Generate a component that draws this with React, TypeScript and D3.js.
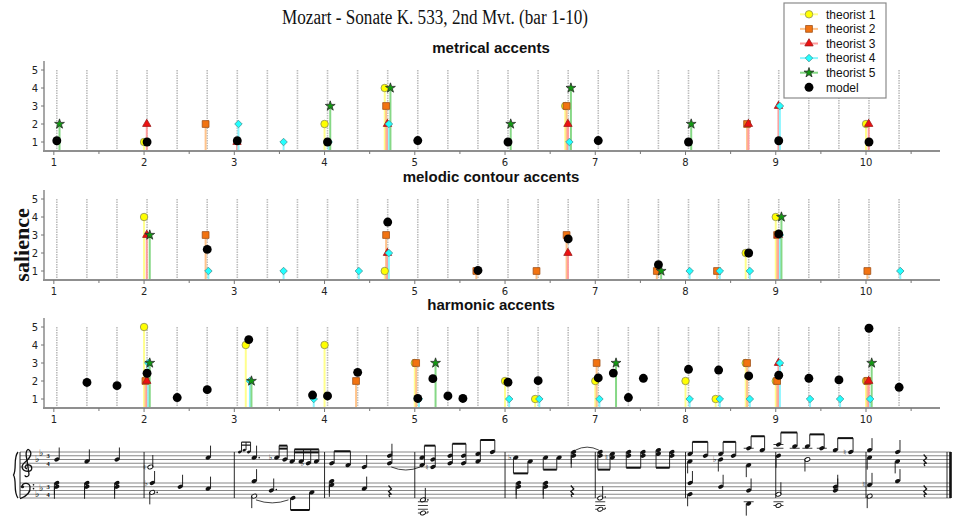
import React from 'react';
import * as d3 from 'd3';

type Pt = [number, number];
// [onset, staff, step, kind, stem dir, accidental]
type Note = [number, 'T' | 'B', number, string, string?, string?];

const chartTitle = 'Mozart - Sonate K. 533, 2nd Mvt. (bar 1-10)';
const panelTitles = ['metrical accents', 'melodic contour accents', 'harmonic accents'];
const seriesNames = ['theorist 1', 'theorist 2', 'theorist 3', 'theorist 4', 'theorist 5', 'model'];
const barNumbers = [1, 2, 3, 4, 5, 6, 7, 8, 9, 10];
const salienceTicks = [1, 2, 3, 4, 5];

// metrical accents
const metT1: Pt[] = [[2.033, 1], [4.033, 2], [4.7, 4], [6.7, 3], [10.033, 2]];
const metT2: Pt[] = [[2.7, 2], [4.7, 3], [6.7, 3], [8.7, 2]];
const metT3: Pt[] = [[2.033, 2], [3.033, 1], [4.7, 2], [6.7, 2], [8.7, 2], [9.033, 3], [10.033, 2]];
const metT4: Pt[] = [[3.033, 2], [3.533, 1], [4.033, 1], [4.7, 2], [6.7, 1], [9.033, 3]];
const metT5: Pt[] = [[1.033, 2], [4.033, 3], [4.7, 4], [6.033, 2], [6.7, 4], [8.033, 2]];
const metModel: Pt[] = [[1.033, 1.07], [2.033, 1], [3.033, 1.07], [4.033, 1], [5.033, 1.08],
  [6.033, 1], [7.033, 1.08], [8.033, 1], [9.033, 1.07], [10.033, 1]];

// melodic contour accents
const melT1: Pt[] = [[2.033, 4], [4.7, 1], [8.7, 2], [9.033, 4]];
const melT2: Pt[] = [[2.7, 3], [4.7, 3], [5.7, 1], [6.367, 1], [6.7, 3], [7.7, 1], [8.367, 1], [9.033, 3], [10.033, 1]];
const melT3: Pt[] = [[2.033, 3], [4.7, 2], [6.7, 2], [9.033, 3]];
const melT4: Pt[] = [[2.7, 1], [3.533, 1], [4.367, 1], [4.7, 2], [8.033, 1], [8.367, 1], [8.7, 1], [9.033, 3], [10.367, 1]];
const melT5: Pt[] = [[2.033, 3], [7.7, 1], [9.033, 4]];
const melModel: Pt[] = [[2.7, 2.2], [4.7, 3.72], [5.7, 1.03], [6.7, 2.78], [7.7, 1.35], [8.7, 2], [9.033, 3.06]];

// harmonic accents
const harT1: Pt[] = [[2.033, 5], [3.16, 4], [4.033, 4], [5.033, 3], [6.033, 2], [6.367, 1], [7.033, 2],
  [8.033, 2], [8.367, 1], [8.7, 3], [9.033, 2], [10.033, 2]];
const harT2: Pt[] = [[2.033, 2], [4.367, 2], [5.033, 3], [7.033, 3], [8.7, 3], [9.033, 2], [10.033, 2]];
const harT3: Pt[] = [[2.033, 2], [9.033, 3], [10.033, 2]];
const harT4: Pt[] = [[2.033, 3], [3.16, 2], [3.867, 1], [5.033, 1], [6.033, 1], [6.367, 1], [7.033, 1],
  [8.033, 1], [8.367, 1], [8.7, 1], [9.033, 3], [9.367, 1], [9.7, 1], [10.033, 1]];
const harT5: Pt[] = [[2.033, 3], [3.16, 2], [5.2, 3], [7.2, 3], [10.033, 3]];
const harModel: Pt[] = [[1.367, 1.92], [1.7, 1.74], [2.033, 2.43], [2.367, 1.08], [2.7, 1.52], [3.16, 4.3],
  [3.867, 1.22], [4.033, 1.17], [4.367, 2.48], [5.033, 1.03], [5.2, 2.13], [5.367, 1.17], [5.533, 1.03],
  [6.033, 1.93], [6.367, 2.02], [7.033, 2.17], [7.2, 2.44], [7.367, 1.08], [7.533, 2.15], [8.033, 2.65],
  [8.367, 2.61], [8.7, 2.28], [9.033, 2.32], [9.367, 2.15], [9.7, 2.06], [10.033, 4.93], [10.367, 1.65]];

const panels: Pt[][][] = [
  [metT1, metT2, metT3, metT4, metT5, metModel],
  [melT1, melT2, melT3, melT4, melT5, melModel],
  [harT1, harT2, harT3, harT4, harT5, harModel],
];

// score (bar 1-10), positions in bar units
const scoreNotes: Note[] = [
  [1.033, 'T', 4, 'q', 'u'], [1.367, 'T', 3, 'q', 'u'], [1.7, 'T', 4, 'q', 'u'],
  [1.033, 'B', 6, 'q', 'd'], [1.033, 'B', 8, 'q', 'd'], [1.367, 'B', 6, 'q', 'd'], [1.367, 'B', 8, 'q', 'd'],
  [1.7, 'B', 6, 'q', 'd'], [1.7, 'B', 8, 'q', 'd'],
  [2.07, 'T', 0, 'h', 'u', 'n'], [2.71, 'T', 5, 'q', 'u'],
  [2.09, 'B', 8, 'q', 'u', 'b'], [2.09, 'B', 3, 'd', 'd'], [2.4, 'B', 6, 'q', 'u'], [2.71, 'B', 5, 'q', 'u'],
  [3.06, 'T', 8, 's'], [3.11, 'T', 9, 's'], [3.16, 'T', 8, 's'],
  [3.22, 'T', 5, 'qd', 'u'],
  [3.47, 'T', 5, 'e', 'u', 'b'], [3.56, 'T', 4, 'e'], [3.64, 'T', 3, 'e'], [3.74, 'T', 3, 'e'],
  [3.82, 'T', 2, 'e', 'u', 'b'], [3.91, 'T', 3, 'e'],
  [3.22, 'B', 9, 'q', 'u'], [3.22, 'B', 1, 'h', 'd'], [3.41, 'B', 4, 'qd', 'u'],
  [3.65, 'B', 0, 'e'], [3.86, 'B', 3, 'e'],
  [4.08, 'T', 2, 'e'], [4.26, 'T', 1, 'e'], [4.44, 'T', 0, 'q', 'u'], [4.72, 'T', 2, 'q', 'u'], [4.72, 'T', 6, 'q', 'u'],
  [4.08, 'B', 7, 'q', 'd'], [4.08, 'B', 9, 'q', 'd'], [4.44, 'B', 5, 'q', 'u'],
  [5.08, 'T', 1, 'e'], [5.08, 'T', 5, 'e'], [5.2, 'T', 0, 'e', 'u', 'n'], [5.2, 'T', 4, 'e'],
  [5.39, 'T', 2, 'e'], [5.39, 'T', 6, 'e'], [5.54, 'T', 2, 'e'], [5.54, 'T', 6, 'e'],
  [5.7, 'T', 3, 'e'], [5.7, 'T', 7, 'e'], [5.86, 'T', 8, 'e'],
  [5.09, 'B', -1, 'd', 'u'], [5.09, 'B', -8, 'dn'],
  [6.12, 'T', 5, 'e', 'd', 'b'], [6.28, 'T', 3, 'e'], [6.45, 'T', 5, 'e'], [6.6, 'T', 5, 'e'],
  [6.76, 'T', 6, 'q', 'd'], [6.76, 'T', 8, 'q', 'd'],
  [6.15, 'B', 6, 'q', 'd'], [6.15, 'B', 8, 'q', 'd'], [6.45, 'B', 6, 'q', 'd'], [6.45, 'B', 8, 'q', 'd'],
  [7.055, 'T', 6, 'e'], [7.055, 'T', 8, 'e'], [7.19, 'T', 5, 'e', 'd', 'n'], [7.19, 'T', 7, 'e'],
  [7.37, 'T', 6, 'e'], [7.37, 'T', 8, 'e'], [7.53, 'T', 6, 'e'], [7.53, 'T', 8, 'e'],
  [7.7, 'T', 7, 'e'], [7.7, 'T', 9, 'e'], [7.85, 'T', 6, 'e'], [7.85, 'T', 8, 'e'],
  [7.055, 'B', 0, 'd', 'u'], [7.055, 'B', -6, 'dn'],
  [8.05, 'T', 7, 'e'], [8.22, 'T', 6, 'e'], [8.39, 'T', 7, 'e'], [8.53, 'T', 6, 'e'], [8.7, 'T', 10, 'e'], [8.85, 'T', 9, 'e'],
  [8.05, 'T', 3, 'q', 'd'], [8.39, 'T', 4, 'q', 'd', 'b'], [8.7, 'T', 1, 'q', 'd'],
  [8.05, 'B', 8, 'q', 'u'], [8.05, 'B', 2, 'q', 'd'], [8.39, 'B', 6, 'q', 'u'], [8.7, 'B', 4, 'q', 'u'], [8.7, 'B', -3, 'q', 'd'],
  [9.03, 'T', 12, 'e'], [9.21, 'T', 11, 'e'], [9.35, 'T', 11, 'e'], [9.51, 'T', 10, 'e'], [9.66, 'T', 9, 'e'], [9.83, 'T', 8, 'e', 'u', 'n'],
  [9.03, 'T', 6, 'q', 'd'], [9.35, 'T', 4, 'h', 'd'],
  [9.03, 'B', 2, 'h', 'u'], [9.03, 'B', -4, 'hn'], [9.66, 'B', 4, 'q', 'u'], [9.66, 'B', 6, 'q', 'u'],
  [10.04, 'T', 9, 'q', 'u'], [10.04, 'T', 5, 'q', 'd'], [10.35, 'T', 8, 'q', 'u'], [10.35, 'T', 3, 'q', 'd'],
  [10.04, 'B', 7, 'q', 'u', 'n'], [10.04, 'B', 1, 'h', 'd'], [10.35, 'B', 9, 'q', 'u'],
];
// [staff, stem dir, beam count, onsets]
const scoreBeams: ['T' | 'B', string, number, number[]][] = [
  ['T', 'u', 2, [3.06, 3.11, 3.16]],
  ['T', 'u', 2, [3.47, 3.56]], ['T', 'u', 2, [3.64, 3.74, 3.82, 3.91]],
  ['B', 'd', 1, [3.65, 3.86]],
  ['T', 'u', 1, [4.08, 4.26]],
  ['T', 'u', 1, [5.08, 5.2]], ['T', 'u', 1, [5.39, 5.54]], ['T', 'u', 1, [5.7, 5.86]],
  ['T', 'd', 1, [6.12, 6.28]], ['T', 'd', 1, [6.45, 6.6]],
  ['T', 'd', 1, [7.055, 7.19]], ['T', 'd', 1, [7.37, 7.53]], ['T', 'd', 1, [7.7, 7.85]],
  ['T', 'u', 1, [8.05, 8.22]], ['T', 'u', 1, [8.39, 8.53]], ['T', 'u', 1, [8.7, 8.85]],
  ['T', 'u', 1, [9.03, 9.21]], ['T', 'u', 1, [9.35, 9.51]], ['T', 'u', 1, [9.66, 9.83]],
];
// [from, to, staff, step, up?]
const scoreTies: [number, number, 'T' | 'B', number, number][] = [
  [4.74, 5.06, 'T', 0, 0], [3.24, 3.6, 'B', -1, 0], [6.78, 7.04, 'T', 9, 1],
];
const scoreRests: [number, 'T' | 'B'][] = [[4.72, 'B'], [6.74, 'B'], [10.65, 'T'], [10.65, 'B']];

const W = 957;
const H = 521;
const x = d3.scaleLinear().domain([0.88, 10.82]).range([43, 940]);
const baselines = [151, 280, 408];
const panelH = 90;
const beatGrid = d3.range(1, 11).flatMap((n) => [0, 1, 2].map((k) => n + 0.033 + k / 3)).filter((v) => v < 10.5);

const styles = [
  { shape: d3.symbolCircle, size: 44, rot: 0, fill: '#ffff00', stroke: '#8c8c5a', stem: '#ffff8c', dx: -0.033 },
  { shape: d3.symbolSquare, size: 46, rot: 0, fill: '#f27311', stroke: '#a0521a', stem: '#ffc48c', dx: -0.018 },
  { shape: d3.symbolTriangle, size: 30, rot: 0, fill: '#ee1111', stroke: '#9a1a1a', stem: '#ff9c9c', dx: -0.003 },
  { shape: d3.symbolSquare, size: 28, rot: 45, fill: '#22ffff', stroke: '#4a9a9a', stem: '#8cf6ff', dx: 0.013 },
  { shape: d3.symbolStar, size: 30, rot: 0, fill: '#129a12', stroke: '#2a2a2a', stem: '#86d886', dx: 0.03 },
  { shape: d3.symbolCircle, size: 62, rot: 0, fill: '#000000', stroke: '#000000', stem: '', dx: 0 },
];
const sym = (i: number) => d3.symbol(styles[i].shape, styles[i].size)() || '';

const sans = 'Liberation Sans, Arial, sans-serif';

function Panel({ idx }: { idx: number }) {
  const base = baselines[idx];
  const y = d3.scaleLinear().domain([0.5, 5.5]).range([base, base - panelH]);
  const data = panels[idx];
  return (
    <g>
      <text x={491} y={base - 98} textAnchor="middle" fontFamily={sans} fontWeight="bold" fontSize={15} fill="#111">
        {panelTitles[idx]}
      </text>
      {beatGrid.map((v, i) => (
        <line key={i} x1={x(v)} x2={x(v)} y1={y(5)} y2={base} stroke="#bdbdbd" strokeWidth={1.6} strokeDasharray="1.5,1" />
      ))}
      {/* y axis */}
      <line x1={44} x2={44} y1={y(5.5)} y2={base} stroke="#8a8a8a" strokeWidth={1.5} />
      {salienceTicks.map((t) => (
        <g key={t}>
          <line x1={41} x2={44} y1={y(t)} y2={y(t)} stroke="#777" />
          <text x={38} y={y(t) + 3.5} textAnchor="end" fontFamily="DejaVu Sans, sans-serif" fontSize={10} fill="#222">{t}</text>
        </g>
      ))}
      {/* stems */}
      {data.slice(0, 5).map((s, si) =>
        s.map(([o, v], j) => (
          <line key={`${si}-${j}`} x1={x(o + styles[si].dx)} x2={x(o + styles[si].dx)} y1={base} y2={y(v)}
            stroke={styles[si].stem} strokeWidth={2} />
        )))}
      {/* markers */}
      {data.map((s, si) =>
        s.map(([o, v], j) => (
          <path key={`m${si}-${j}`} d={sym(si)}
            transform={`translate(${x(o + styles[si].dx)},${y(v)}) rotate(${styles[si].rot})`}
            fill={styles[si].fill} stroke={styles[si].stroke} strokeWidth={si === 5 ? 0 : 0.8} />
        )))}
      {/* x axis */}
      <line x1={43} x2={940} y1={base} y2={base} stroke="#8f8f8f" strokeWidth={2} />
      {barNumbers.map((b) => (
        <g key={b}>
          <line x1={x(b)} x2={x(b)} y1={base} y2={base + 4} stroke="#777" />
          <line x1={x(b + 0.5)} x2={x(b + 0.5)} y1={base} y2={base + 3} stroke="#777" />
          <text x={x(b)} y={base + 15} textAnchor="middle" fontFamily="DejaVu Sans, sans-serif" fontSize={10} fill="#222">{b}</text>
        </g>
      ))}
    </g>
  );
}

const staffBottom = { T: 467, B: 498 } as const;
const half = 1.875;
const sy = (st: 'T' | 'B', step: number) => staffBottom[st] - step * half;

function Score() {
  const heads = scoreNotes.map((n) => {
    const [o, st, step, kind, dir, acc] = n;
    const cx = x(o);
    const cy = sy(st, step);
    const small = kind === 's';
    const hollow = kind === 'h' || kind === 'd' || kind === 'dn' || kind === 'hn';
    const ledgers: number[] = [];
    for (let s = -2; s >= step; s -= 2) ledgers.push(s);
    for (let s = 10; s <= step; s += 2) ledgers.push(s);
    const hasStem = (kind === 'q' || kind === 'h' || kind === 'd' || kind === 'qd') && dir;
    const dotted = kind === 'd' || kind === 'qd' || kind === 'dn';
    return (
      <g key={`${o}-${st}-${step}`}>
        {ledgers.map((s) => (
          <line key={s} x1={cx - 5} x2={cx + 5} y1={sy(st, s)} y2={sy(st, s)} stroke="#111" strokeWidth={0.8} />
        ))}
        <ellipse cx={cx} cy={cy} rx={small ? 1.8 : 2.7} ry={small ? 1.3 : 1.9} transform={`rotate(-22 ${cx} ${cy})`}
          fill={hollow ? '#fff' : '#111'} stroke="#111" strokeWidth={hollow ? 0.9 : 0} />
        {hasStem && (dir === 'u'
          ? <line x1={cx + 2.4} x2={cx + 2.4} y1={cy} y2={cy - 12} stroke="#111" strokeWidth={0.9} />
          : <line x1={cx - 2.4} x2={cx - 2.4} y1={cy} y2={cy + 12} stroke="#111" strokeWidth={0.9} />)}
        {dotted && <circle cx={cx + 5} cy={cy - (Math.abs(step) % 2 === 0 ? 1 : 0)} r={0.8} fill="#111" />}
        {acc && (
          <text x={cx - 6} y={cy + 2.5} textAnchor="middle" fontFamily="DejaVu Sans, sans-serif" fontSize={8} fill="#111">
            {acc === 'b' ? '\u266d' : '\u266e'}
          </text>
        )}
      </g>
    );
  });

  const beams = scoreBeams.map(([st, dir, count, onsets], bi) => {
    const cols = onsets.map((o) => {
      const ys = scoreNotes.filter((n) => n[1] === st && Math.abs(n[0] - o) < 1e-6 && (n[3] === 'e' || n[3] === 's'))
        .map((n) => sy(st, n[2]));
      return { o, lo: Math.max(...ys), hi: Math.min(...ys) };
    });
    const small = st === 'T' && onsets[0] < 3.2 && onsets[0] > 3;
    const len = small ? 8 : 12;
    const up = dir === 'u';
    const by = up ? Math.min(...cols.map((c) => c.hi)) - len : Math.max(...cols.map((c) => c.lo)) + len;
    const off = up ? (small ? 1.8 : 2.4) : -2.4;
    const x0 = x(cols[0].o) + off;
    const x1 = x(cols[cols.length - 1].o) + off;
    return (
      <g key={bi}>
        {cols.map((c) => (
          <line key={c.o} x1={x(c.o) + off} x2={x(c.o) + off} y1={up ? c.lo : c.hi} y2={by} stroke="#111" strokeWidth={0.9} />
        ))}
        {d3.range(count).map((k) => (
          <line key={k} x1={x0} x2={x1} y1={by + (up ? k * 3 : -k * 3)} y2={by + (up ? k * 3 : -k * 3)}
            stroke="#111" strokeWidth={small ? 1.2 : 2} />
        ))}
      </g>
    );
  });

  const lines: JSX.Element[] = [];
  (['T', 'B'] as const).forEach((st) => {
    for (let i = 0; i < 5; i++) {
      lines.push(<line key={`${st}${i}`} x1={20} x2={951} y1={sy(st, i * 2)} y2={sy(st, i * 2)} stroke="#555" strokeWidth={0.7} />);
    }
  });

  const top = sy('T', 8);
  const bottom = sy('B', 0);
  const flatsT = [4, 7];
  const flatsB = [2, 5];

  return (
    <g>
      {lines}
      <line x1={20} x2={20} y1={top} y2={bottom} stroke="#111" strokeWidth={0.9} />
      {barNumbers.slice(1).map((b) => (
        <line key={b} x1={x(b)} x2={x(b)} y1={top} y2={bottom} stroke="#111" strokeWidth={0.9} />
      ))}
      <line x1={947} x2={947} y1={top} y2={bottom} stroke="#111" strokeWidth={0.9} />
      <line x1={950.5} x2={950.5} y1={top} y2={bottom} stroke="#111" strokeWidth={2.6} />
      {/* brace */}
      <path d={`M18,${top} C13,${top + 6} 17,${top + 17} 13.5,${(top + bottom) / 2} C17,${bottom - 17} 13,${bottom - 6} 18,${bottom}`}
        fill="none" stroke="#111" strokeWidth={1.3} />
      {/* treble clef */}
      <g transform={`translate(27,${sy('T', 2)})`} fill="none" stroke="#111" strokeWidth={1.3}>
        <path d="M1,-14 C6,-11 4,-6 -2,-1 C-7,3 -5,8 1,8 C6,8 6,2 1,1.5 C-2,1.5 -3,5 0,5.5" />
        <path d="M1,-14 C-2,-12 -1,-7 0,-3 L2,11 C2,14 -2,14 -2,12" />
      </g>
      {/* bass clef */}
      <g transform={`translate(25,${sy('B', 6)})`}>
        <path d="M-3,0 C-3,-4 4,-5 5,0 C6,6 0,10 -5,12" fill="none" stroke="#111" strokeWidth={1.3} />
        <circle cx={-2.5} cy={0} r={1.6} fill="#111" />
        <circle cx={8.5} cy={-1.9} r={0.8} fill="#111" />
        <circle cx={8.5} cy={1.9} r={0.8} fill="#111" />
      </g>
      {flatsT.map((s, i) => (
        <text key={`ft${s}`} x={37 + i * 4} y={sy('T', s) + 2.5} fontFamily="DejaVu Sans, sans-serif" fontSize={9} fill="#111" textAnchor="middle">{'\u266d'}</text>
      ))}
      {flatsB.map((s, i) => (
        <text key={`fb${s}`} x={37 + i * 4} y={sy('B', s) + 2.5} fontFamily="DejaVu Sans, sans-serif" fontSize={9} fill="#111" textAnchor="middle">{'\u266d'}</text>
      ))}
      {(['T', 'B'] as const).map((st) => (
        <g key={`ts${st}`} fontFamily="Liberation Serif, serif" fontWeight="bold" fontSize={6.5} fill="#111" textAnchor="middle">
          <text x={48} y={sy(st, 6) + 2.4}>3</text>
          <text x={48} y={sy(st, 2) + 2.4}>4</text>
        </g>
      ))}
      {heads}
      {beams}
      {scoreTies.map(([a, b, st, step, up], i) => {
        const yy = sy(st, step);
        const xa = x(a);
        const xb = x(b);
        return <path key={i} d={`M${xa},${yy} Q${(xa + xb) / 2},${yy + (up ? -6 : 6)} ${xb},${yy}`} fill="none" stroke="#111" strokeWidth={0.8} />;
      })}
      {scoreRests.map(([o, st], i) => (
        <path key={i} transform={`translate(${x(o)},${sy(st, 4)})`} d="M-1,-5 L2,-1.5 L-1,1 L2,4 C-0.5,3 -1.5,5 0.5,6.5"
          fill="none" stroke="#111" strokeWidth={1.2} />
      ))}
    </g>
  );
}

function Legend() {
  const left = 784;
  const topY = 3;
  return (
    <g>
      <rect x={left} y={topY} width={102} height={95} fill="#fff" stroke="#8a8a8a" strokeWidth={1.2} />
      {seriesNames.map((name, i) => {
        const yy = 14.3 + i * 14.6;
        return (
          <g key={name}>
            {i < 5 && <line x1={800} x2={818} y1={yy} y2={yy} stroke={styles[i].stem} strokeWidth={2} />}
            <path d={sym(i)} transform={`translate(809,${yy}) rotate(${styles[i].rot})`} fill={styles[i].fill}
              stroke={styles[i].stroke} strokeWidth={i === 5 ? 0 : 0.8} />
            <text x={826} y={yy + 4.3} fontFamily={sans} fontSize={12} fill="#111">{name}</text>
          </g>
        );
      })}
    </g>
  );
}

export default function App() {
  return (
    <svg width={W} height={H} viewBox={`0 0 ${W} ${H}`} style={{ position: 'absolute', left: 0, top: 0, background: '#fff' }}>
      <rect x={0} y={0} width={W} height={H} fill="#fff" />
      <text x={435} y={24} textAnchor="middle" fontFamily="Liberation Serif, serif" fontSize={20}
        textLength={306} lengthAdjust="spacingAndGlyphs" fill="#111">{chartTitle}</text>
      <text transform="translate(29,245) rotate(-90)" textAnchor="middle" fontFamily="Liberation Serif, serif"
        fontWeight="bold" fontSize={22} fill="#111">salience</text>
      {[0, 1, 2].map((i) => <Panel key={i} idx={i} />)}
      <Score />
      <Legend />
    </svg>
  );
}
